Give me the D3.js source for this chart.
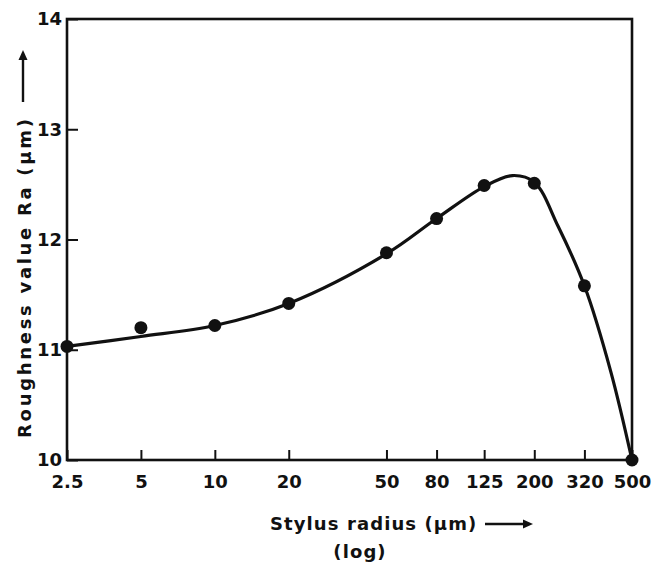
<!DOCTYPE html>
<html>
<head>
<meta charset="utf-8">
<script src="https://cdn.jsdelivr.net/npm/d3@7"></script>
<style>
  html, body { margin: 0; padding: 0; background: #fff; }
  svg { display: block; }
  text { font-family: "DejaVu Sans", "Liberation Sans", sans-serif; font-weight: bold; fill: #111; }
</style>
</head>
<body>
<svg id="chart" width="658" height="563"></svg>
<script>
// Stylus radius (µm, log scale) vs. measured roughness Ra (µm)
const xTickValues = [2.5, 5, 10, 20, 50, 80, 125, 200, 320, 500];
const xTickLabels = ["2.5", "5", "10", "20", "50", "80", "125", "200", "320", "500"];
const yTickValues = [10, 11, 12, 13, 14];
const yTickLabels = ["10", "11", "12", "13", "14"];

// measured points
const radius    = [2.5, 5, 10, 20, 50, 80, 125, 200, 320, 500];
const roughness = [11.03, 11.20, 11.22, 11.42, 11.88, 12.19, 12.49, 12.51, 11.58, 10.0];

// smooth trend curve drawn through the measurements
const curveRadius    = [2.5, 5, 10, 20, 50, 80, 125, 163, 200, 250, 320, 410, 500];
const curveRoughness = [11.03, 11.12, 11.22, 11.42, 11.87, 12.19, 12.48, 12.58, 12.52, 12.12, 11.58, 10.80, 10.0];

const svg = d3.select("#chart");
const plotLeft = 67, plotRight = 632, plotTop = 19, plotBottom = 460;

const x = d3.scaleLog().domain([2.5, 500]).range([plotLeft, plotRight]);
const y = d3.scaleLinear().domain([10, 14]).range([plotBottom, plotTop]);

const ink = "#111";
const font = "'DejaVu Sans', 'Liberation Sans', sans-serif";

// frame
svg.append("rect")
  .attr("x", plotLeft).attr("y", plotTop)
  .attr("width", plotRight - plotLeft).attr("height", plotBottom - plotTop)
  .attr("fill", "none").attr("stroke", ink).attr("stroke-width", 2.6);

// x axis: inward ticks with labels below
const xAxis = d3.axisBottom(x)
  .tickValues(xTickValues)
  .tickFormat((d, i) => xTickLabels[i])
  .tickSizeInner(-10).tickSizeOuter(0).tickPadding(15);
const gx = svg.append("g").attr("transform", `translate(0,${plotBottom})`).call(xAxis);
gx.select(".domain").remove();
gx.selectAll(".tick line").attr("stroke", ink).attr("stroke-width", 2);
gx.selectAll(".tick text")
  .attr("font-size", 18).attr("fill", ink)
  .style("font-family", font).style("font-weight", "bold");

// y axis: inward ticks with labels to the left
const yAxis = d3.axisLeft(y)
  .tickValues(yTickValues)
  .tickFormat((d, i) => yTickLabels[i])
  .tickSizeInner(-11).tickSizeOuter(0).tickPadding(5);
const gy = svg.append("g").attr("transform", `translate(${plotLeft},0)`).call(yAxis);
gy.select(".domain").remove();
gy.selectAll(".tick line").attr("stroke", ink).attr("stroke-width", 2);
gy.selectAll(".tick text")
  .attr("font-size", 18).attr("fill", ink)
  .style("font-family", font).style("font-weight", "bold");

// trend curve
const line = d3.line()
  .x(d => x(d[0]))
  .y(d => y(d[1]))
  .curve(d3.curveCatmullRom.alpha(0.5));
svg.append("path")
  .datum(curveRadius.map((r, i) => [r, curveRoughness[i]]))
  .attr("d", line)
  .attr("fill", "none").attr("stroke", ink).attr("stroke-width", 3.2)
  .attr("stroke-linejoin", "round").attr("stroke-linecap", "round");

// measured points
svg.append("g").selectAll("circle")
  .data(radius.map((r, i) => [r, roughness[i]]))
  .join("circle")
  .attr("cx", d => x(d[0])).attr("cy", d => y(d[1]))
  .attr("r", 6.5).attr("fill", ink);

// arrow helper
function arrow(x1, y1, x2, y2) {
  const ang = Math.atan2(y2 - y1, x2 - x1);
  const len = 10, wid = 4.5;
  const bx = x2 - len * Math.cos(ang), by = y2 - len * Math.sin(ang);
  svg.append("line").attr("x1", x1).attr("y1", y1).attr("x2", bx).attr("y2", by)
    .attr("stroke", ink).attr("stroke-width", 2.4);
  svg.append("path")
    .attr("d", `M${x2},${y2} L${bx + wid * Math.sin(ang)},${by - wid * Math.cos(ang)} L${bx - wid * Math.sin(ang)},${by + wid * Math.cos(ang)} Z`)
    .attr("fill", ink);
}

// x title
svg.append("text")
  .attr("x", 270).attr("y", 530)
  .attr("font-size", 18).attr("letter-spacing", 1.1)
  .text("Stylus radius (μm)");
arrow(485, 524, 533, 524);
svg.append("text")
  .attr("x", 360).attr("y", 558)
  .attr("text-anchor", "middle")
  .attr("font-size", 18).attr("letter-spacing", 1.1)
  .text("(log)");

// y title (rotated)
svg.append("text")
  .attr("transform", "translate(31,438) rotate(-90)")
  .attr("font-size", 18).attr("letter-spacing", 2.7)
  .text("Roughness value Ra (μm)");
arrow(23, 102, 23, 50);
</script>
</body>
</html>
